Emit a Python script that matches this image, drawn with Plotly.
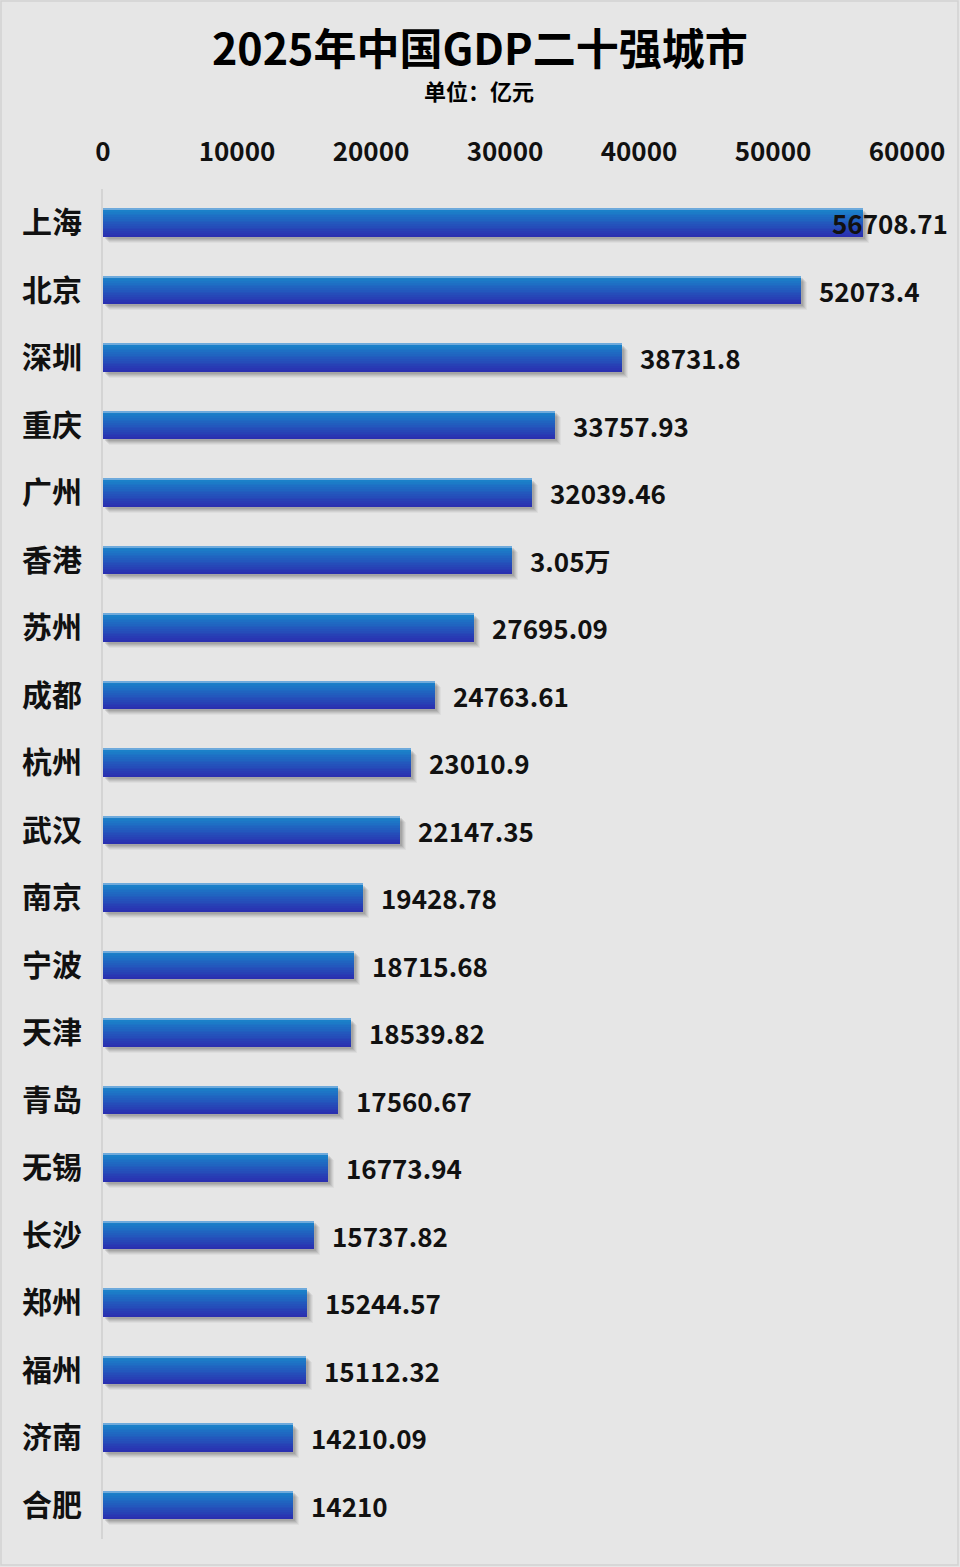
import plotly.graph_objects as go

cities = ["上海", "北京", "深圳", "重庆", "广州", "香港", "苏州", "成都", "杭州", "武汉",
          "南京", "宁波", "天津", "青岛", "无锡", "长沙", "郑州", "福州", "济南", "合肥"]
gdp = [56708.71, 52073.4, 38731.8, 33757.93, 32039.46, 30500, 27695.09, 24763.61, 23010.9, 22147.35,
       19428.78, 18715.68, 18539.82, 17560.67, 16773.94, 15737.82, 15244.57, 15112.32, 14210.09, 14210]
value_labels = ["56708.71", "52073.4", "38731.8", "33757.93", "32039.46", "3.05万", "27695.09", "24763.61",
                "23010.9", "22147.35", "19428.78", "18715.68", "18539.82", "17560.67", "16773.94",
                "15737.82", "15244.57", "15112.32", "14210.09", "14210"]
tick_vals = [0, 10000, 20000, 30000, 40000, 50000, 60000]

FONT = "Noto Sans CJK SC"
W, H = 960, 1567
ML, MR, MT, MB = 103, 53, 189, 28
PW, PH = W - ML - MR, H - MT - MB
units_per_px = 60000 / PW

fig = go.Figure()

BAR_W = 0.415

# soft shadow layers (below and right of each bar)
for k, alpha in [(6, 0.05), (5, 0.07), (4, 0.09), (3, 0.11), (2, 0.12)]:
    dy = k / 67.5
    fig.add_trace(go.Bar(
        y=cities, x=gdp, orientation="h", base=k * units_per_px,
        width=BAR_W, offset=-BAR_W / 2 + dy,
        marker=dict(color=f"rgba(60,60,60,{alpha})", line=dict(width=0)),
        hoverinfo="skip", showlegend=False))

# gradient bars built from thin strips
N = 16
top = (26, 134, 203)
bot = (42, 48, 176)
sw = BAR_W / N
for i in range(N):
    t = i / (N - 1)
    c = tuple(round(top[j] + (bot[j] - top[j]) * t) for j in range(3))
    fig.add_trace(go.Bar(
        y=cities, x=gdp, orientation="h",
        width=sw * 1.08, offset=-BAR_W / 2 + i * sw,
        marker=dict(color=f"rgb{c}", line=dict(width=0)),
        hoverinfo="skip", showlegend=False))

# top highlight edge
fig.add_trace(go.Bar(
    y=cities, x=gdp, orientation="h",
    width=0.012, offset=-BAR_W / 2,
    marker=dict(color="rgb(110,170,220)", line=dict(width=0)),
    hoverinfo="skip", showlegend=False))

annotations = []
for i, (c, v, lab) in enumerate(zip(cities, gdp, value_labels)):
    shift = 16 if v / units_per_px + 18 + 115 < PW + MR else -33
    annotations.append(dict(
        x=v, y=c, xref="x", yref="y", text=lab, showarrow=False,
        xanchor="left", yanchor="middle", xshift=shift,
        font=dict(family=FONT, size=26, color="#111111", weight=700)))

annotations.append(dict(
    x=(480 - ML) / PW, xref="paper", y=(H - MB - 46) / PH, yref="paper",
    xanchor="center", yanchor="middle", showarrow=False,
    text="2025年中国GDP二十强城市",
    font=dict(family=FONT, size=43, color="#000000", weight=700)))
annotations.append(dict(
    x=(479 - ML) / PW, xref="paper", y=(H - MB - 90) / PH, yref="paper",
    xanchor="center", yanchor="middle", showarrow=False,
    text="单位：亿元",
    font=dict(family=FONT, size=22, color="#000000", weight=700)))

fig.update_layout(
    width=W, height=H,
    margin=dict(l=ML, r=MR, t=MT, b=MB, pad=0),
    paper_bgcolor="#e6e6e6", plot_bgcolor="#e6e6e6",
    barmode="overlay", bargap=0,
    showlegend=False,
    annotations=annotations,
    shapes=[dict(type="rect", xref="paper", yref="paper",
                 x0=(1 - ML) / PW, x1=(958 - ML) / PW,
                 y0=(H - MB - 1565) / PH, y1=(H - MB - 1) / PH,
                 line=dict(color="#d2d2d2", width=1.5), layer="below")],
)
fig.update_xaxes(
    range=[0, 60000], side="top", tickvals=tick_vals, tickformat="d",
    showgrid=False, zeroline=False, showline=False, ticks="",
    ticklabelstandoff=22,
    tickfont=dict(family=FONT, size=26, color="#111111", weight=700),
)
fig.update_yaxes(
    categoryorder="array", categoryarray=cities, autorange="reversed",
    showgrid=False, zeroline=False, showline=True, linecolor="#d4d4d4", linewidth=2,
    ticks="", ticklabelstandoff=13,
    tickfont=dict(family=FONT, size=30, color="#111111", weight=700),
)

fig.write_html(
    "out.html",
    config={"displayModeBar": False},
    post_script="document.body.style.margin='0';document.body.style.overflow='hidden';",
)
